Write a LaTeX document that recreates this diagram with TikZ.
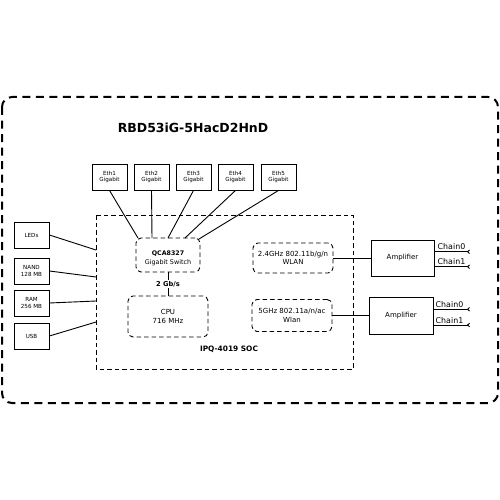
\documentclass[tikz,border=0pt]{standalone}
\usepackage{fontspec}
\setmainfont{DejaVu Sans}
\usetikzlibrary{arrows.meta}
\begin{document}
\begin{tikzpicture}[x=1pt,y=-1pt,
  solidbox/.style={draw,line width=0.9pt,inner sep=0pt,align=center},
  rbox/.style={draw,line width=0.9pt,dash pattern=on 4.5pt off 3pt,rounded corners=5pt,inner sep=0pt,align=center},
  conn/.style={line width=0.9pt},
  chain/.style={line width=0.9pt,-{Straight Barb[reversed,length=2pt,width=3.5pt]}},
  small/.style={font=\fontsize{5.6}{6.4}\selectfont},
  mid/.style={font=\fontsize{7}{8.2}\selectfont}]
\useasboundingbox (0,0) rectangle (500,500);
\fill[white] (0,0) rectangle (500,500);
% outer border
\draw[line width=2pt,dash pattern=on 8pt off 5.5pt,rounded corners=10pt] (2,97) rectangle (498,403);
\node[font=\bfseries\fontsize{12.5}{14}\selectfont] (title) at (193,127.5) {RBD53iG-5HacD2HnD};
% SOC
\draw[line width=0.9pt,dash pattern=on 4.5pt off 3pt] (96,215) rectangle (353,369);
\node[font=\bfseries\fontsize{7.4}{8}\selectfont] (soc) at (229,349) {IPQ-4019 SOC};
% Eth boxes
\foreach \i/\x in {1/109.5,2/151.5,3/193.5,4/235.5,5/278.5}{
  \node[solidbox,small,minimum width=35pt,minimum height=26pt] (eth\i) at (\x,177) {Eth\i\\Gigabit};
}
% switch
\node[rbox,minimum width=64pt,minimum height=34pt] (sw) at (168,255) {};
\node[font=\bfseries\fontsize{6.3}{7.5}\selectfont] (swname) at (168,254) {QCA8327};
\node[font=\fontsize{6.4}{7.5}\selectfont] (swtype) at (168,263) {Gigabit Switch};
% CPU
\node[rbox,mid,minimum width=80pt,minimum height=41pt] (cpu) at (168,316.5) {CPU\\716 MHz};
\draw[conn] (sw.south) -- node[fill=white,inner sep=1pt,font=\bfseries\fontsize{6.7}{8}\selectfont] (gb) {2 Gb/s} (cpu.north);
% eth connections
\draw[conn] (eth1.south) -- (138,238);
\draw[conn] (eth2.south) -- (152,238);
\draw[conn] (eth3.south) -- (168,238);
\draw[conn] (eth4.south) -- (185,238);
\draw[conn] (eth5.south) -- (199,239);
% WLAN
\node[rbox,mid,minimum width=80pt,minimum height=30pt] (w24) at (293,258) {2.4GHz 802.11b/g/n\\WLAN};
\node[rbox,mid,minimum width=80pt,minimum height=32pt] (w5) at (292,315.5) {5GHz 802.11a/n/ac\\Wlan};
% amplifiers
\node[solidbox,mid,minimum width=63pt,minimum height=36pt] (amp1) at (402.5,258) {Amplifier};
\node[solidbox,mid,minimum width=64pt,minimum height=37pt] (amp2) at (401,315.5) {Amplifier};
\draw[conn] (w24.east) -- (w24.east -| amp1.west);
\draw[conn] (w5.east) -- (w5.east -| amp2.west);
% chains
\coordinate (c10) at (470,251.7);
\coordinate (c11) at (470,266.7);
\coordinate (c20) at (470,309.3);
\coordinate (c21) at (470,325);
\draw[chain] (amp1.east |- c10) -- (c10);
\draw[chain] (amp1.east |- c11) -- (c11);
\draw[chain] (amp2.east |- c20) -- (c20);
\draw[chain] (amp2.east |- c21) -- (c21);
\node[font=\fontsize{7.9}{9}\selectfont,anchor=south west,inner sep=0.5pt] (l10) at (437,250.5) {Chain0};
\node[font=\fontsize{7.9}{9}\selectfont,anchor=south west,inner sep=0.5pt] (l11) at (437,265.5) {Chain1};
\node[font=\fontsize{7.9}{9}\selectfont,anchor=south west,inner sep=0.5pt] (l20) at (435,308) {Chain0};
\node[font=\fontsize{7.9}{9}\selectfont,anchor=south west,inner sep=0.5pt] (l21) at (435,324) {Chain1};
% left boxes
\node[solidbox,small,minimum width=35pt,minimum height=26pt] (leds) at (31.5,235) {LEDs};
\node[solidbox,small,minimum width=35pt,minimum height=26pt] (nand) at (31.5,271) {NAND\\128 MB};
\node[solidbox,small,minimum width=35pt,minimum height=26pt] (ram) at (31.5,303) {RAM\\256 MB};
\node[solidbox,small,minimum width=35pt,minimum height=26pt] (usb) at (31.5,336) {USB};
\draw[conn] (leds.east) -- (96,250);
\draw[conn] (nand.east) -- (96,277);
\draw[conn] (ram.east) -- (96,301);
\draw[conn] (usb.east) -- (96,322);
\end{tikzpicture}
\end{document}
